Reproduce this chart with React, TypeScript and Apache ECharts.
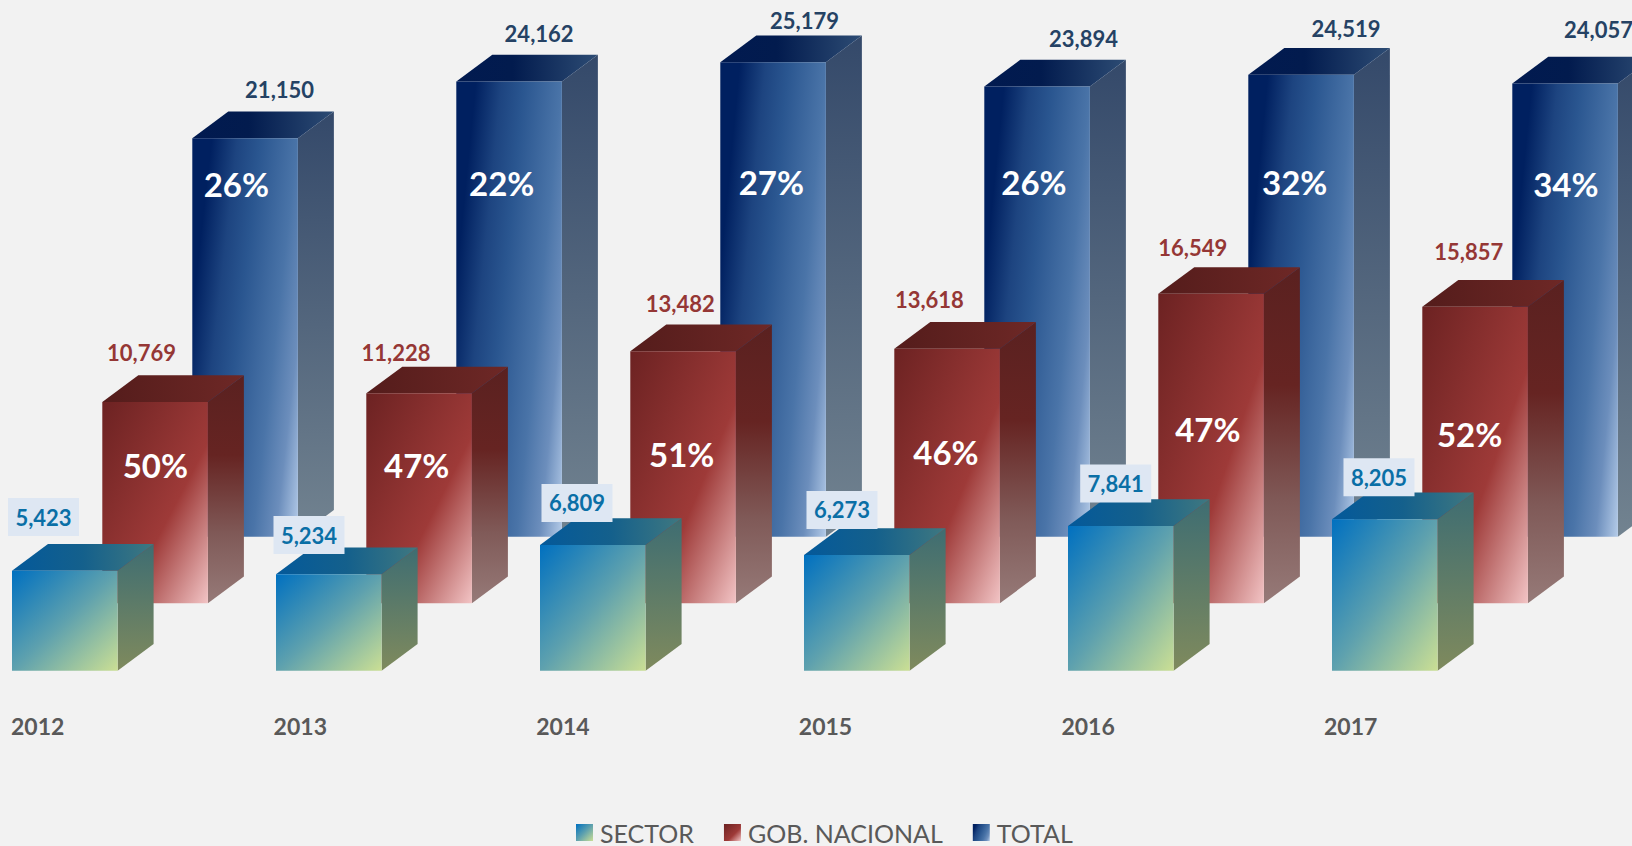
import React, { useEffect, useRef } from "react";
import * as echarts from "echarts";

const years = ["2012", "2013", "2014", "2015", "2016", "2017"];
const seriesNames = ["SECTOR", "GOB. NACIONAL", "TOTAL"];
const sectorValues = [5423, 5234, 6809, 6273, 7841, 8205];
const nacionalValues = [10769, 11228, 13482, 13618, 16549, 15857];
const totalValues = [21150, 24162, 25179, 23894, 24519, 24057];
const nacionalShare = ["50%", "47%", "51%", "46%", "47%", "52%"];
const totalShare = ["26%", "22%", "27%", "26%", "32%", "34%"];

// layout: label offsets from each bar's front-top-left corner
const totalLabelDx = [87.3, 82.8, 84.2, 99.2, 97.7, 86.2];
const totalLabelDy = [48.9, 48.2, 41.5, 48, 45.8, 53.5];
const totalPctDx = [44, 45.4, 51, 49.7, 46.4, 53.5];
const totalPctDy = [45.8, 101.5, 119.7, 95.5, 107.2, 100.5];
const nacionalLabelDx = [39.2, 29.7, 49.9, 35.1, 34.4, 46.5];
const nacionalLabelDy = [49.2, 40.6, 47.2, 48.8, 46.1, 55.1];
const nacionalPctDx = [53, 50.4, 51.4, 51.7, 49.6, 47.3];
const nacionalPctDy = [63.1, 71.7, 102.6, 103.1, 135, 127.2];
const sectorLabelDx = [31.5, 33, 37, 38, 47.7, 47];
const sectorLabelDy = [53.6, 39.1, 42.1, 45, 42.6, 42.1];

const BAR_W = 105.6;
const DEPTH_X = 36;
const DEPTH_Y = 26.7;
const FONT = "Lato";

const fmt = (v: number) => v.toLocaleString("en-US");
const grad = (x2: number, y2: number, stops: [number, string][]) =>
  new echarts.graphic.LinearGradient(
    0,
    0,
    x2,
    y2,
    stops.map(([offset, color]) => ({ offset, color }))
  );

const palettes = {
  total: {
    front: grad(1.207, 0.517, [
      [0, "#002060"],
      [0.13, "#002060"],
      [0.3, "#1d4480"],
      [0.45, "#2a5690"],
      [0.7, "#4a74a8"],
      [0.85, "#6c8ebc"],
      [1, "#b4cbe8"],
    ]),
    side: grad(0, 1, [
      [0, "#34496a"],
      [1, "#728390"],
    ]),
    top: grad(1, 0, [
      [0, "#011a50"],
      [0.4, "#021b4e"],
      [1, "#2d4c74"],
    ]),
  },
  nacional: {
    front: grad(1, 1, [
      [0, "#6c2222"],
      [0.6, "#9e3a38"],
      [1, "#f2c4c5"],
    ]),
    side: grad(0, 1, [
      [0, "#5a2120"],
      [0.35, "#662422"],
      [0.7, "#805a58"],
      [1, "#967a78"],
    ]),
    top: grad(1, 0, [
      [0, "#541c1b"],
      [1, "#6e2826"],
    ]),
  },
  sector: {
    front: grad(1, 1, [
      [0, "#0070c0"],
      [0.5, "#5ea1ae"],
      [1, "#cbdf94"],
    ]),
    side: grad(0, 1, [
      [0, "#3e6d72"],
      [1, "#7f8a5d"],
    ]),
    top: grad(1, 0, [
      [0, "#04599a"],
      [0.5, "#14608c"],
      [1, "#3f7880"],
    ]),
  },
};

function barFaces(
  x: number,
  top: number,
  base: number,
  p: { front: any; side: any; top: any }
) {
  const r = x + BAR_W;
  return [
    {
      type: "polygon",
      shape: {
        points: [
          [r, top],
          [r + DEPTH_X, top - DEPTH_Y],
          [r + DEPTH_X, base - DEPTH_Y],
          [r, base],
        ],
      },
      style: { fill: p.side },
    },
    {
      type: "polygon",
      shape: {
        points: [
          [x, top],
          [x + DEPTH_X, top - DEPTH_Y],
          [r + DEPTH_X, top - DEPTH_Y],
          [r, top],
        ],
      },
      style: { fill: p.top },
    },
    {
      type: "rect",
      shape: { x, y: top, width: BAR_W, height: base - top },
      style: { fill: p.front },
    },
  ];
}

const valueText = (text: string, x: number, y: number, fill: string) => ({
  type: "text",
  z2: 10,
  style: {
    text,
    x,
    y,
    fill,
    font: `bold 22px ${FONT}`,
    align: "center",
    verticalAlign: "middle",
  },
});

const pctText = (text: string, x: number, y: number) => ({
  type: "text",
  z2: 10,
  style: {
    text,
    x,
    y,
    fill: "#ffffff",
    font: `bold 33px ${FONT}`,
    align: "center",
    verticalAlign: "middle",
  },
});

function makeRender(kind: "total" | "nacional" | "sector") {
  return (params: any, api: any) => {
    const i = api.value(0);
    const v = api.value(1);
    const [cx, top] = api.coord([i, v]);
    const [, base] = api.coord([i, 0]);
    const x = cx - BAR_W / 2;
    const children: any[] = barFaces(x, top, base, palettes[kind]);
    if (kind === "total") {
      children.push(
        valueText(fmt(v), x + totalLabelDx[i], top - totalLabelDy[i], "#254264"),
        pctText(totalShare[i], x + totalPctDx[i], top + totalPctDy[i])
      );
    } else if (kind === "nacional") {
      children.push(
        valueText(fmt(v), x + nacionalLabelDx[i], top - nacionalLabelDy[i], "#953735"),
        pctText(nacionalShare[i], x + nacionalPctDx[i], top + nacionalPctDy[i])
      );
    } else {
      const bx = x + sectorLabelDx[i];
      const by = top - sectorLabelDy[i];
      children.push(
        {
          type: "rect",
          z2: 9,
          shape: { x: bx - 35.5, y: by - 19, width: 71, height: 38 },
          style: { fill: "#dee7f3" },
        },
        valueText(fmt(v), bx, by, "#0a6fa6")
      );
    }
    return { type: "group", children };
  };
}

const toData = (values: number[]) => values.map((v, i) => [i, v]);

export default function App() {
  const ref = useRef<HTMLDivElement>(null);
  useEffect(() => {
    document.body.style.margin = "0";
    document.body.style.overflow = "hidden";
    document.body.style.background = "#f2f2f2";
    const chart = echarts.init(ref.current!, undefined, { renderer: "svg" });
    const hiddenX = (gridIndex: number) => ({
      type: "category" as const,
      gridIndex,
      data: years,
      show: false,
    });
    const hiddenY = (gridIndex: number, max: number) => ({
      type: "value" as const,
      gridIndex,
      min: 0,
      max,
      show: false,
      splitLine: { show: false },
    });
    chart.setOption({
      animation: false,
      backgroundColor: "#f2f2f2",
      grid: [
        { left: 113.1, top: 0, width: 1584, height: 536.7, outerBoundsMode: "none" },
        { left: 23.1, top: 0, width: 1584, height: 603.3, outerBoundsMode: "none" },
        { left: -67.2, top: 0, width: 1584, height: 670.7, outerBoundsMode: "none" },
        { left: -93.6, top: 0, width: 1575.6, height: 706, outerBoundsMode: "none" },
      ],
      xAxis: [
        hiddenX(0),
        hiddenX(1),
        hiddenX(2),
        {
          type: "category",
          gridIndex: 3,
          data: years,
          axisLine: { show: false },
          axisTick: { show: false },
          axisLabel: {
            margin: 8,
            color: "#595959",
            fontFamily: FONT,
            fontWeight: "bold",
            fontSize: 23,
          },
        },
      ],
      yAxis: [
        hiddenY(0, 28487),
        hiddenY(1, 32262),
        hiddenY(2, 36352),
        hiddenY(3, 100),
      ],
      legend: {
        data: seriesNames,
        left: 576,
        top: 820,
        padding: 0,
        itemWidth: 17,
        itemHeight: 17,
        itemGap: 30,
        icon: "rect",
        selectedMode: false,
        textStyle: { color: "#595959", fontFamily: FONT, fontSize: 25, padding: [0, 0, 0, 2] },
      },
      series: [
        {
          name: "TOTAL",
          type: "custom",
          xAxisIndex: 0,
          yAxisIndex: 0,
          clip: false,
          silent: true,
          z: 1,
          renderItem: makeRender("total"),
          itemStyle: { color: palettes.total.front },
          data: toData(totalValues),
        },
        {
          name: "GOB. NACIONAL",
          type: "custom",
          xAxisIndex: 1,
          yAxisIndex: 1,
          clip: false,
          silent: true,
          z: 2,
          renderItem: makeRender("nacional"),
          itemStyle: { color: palettes.nacional.front },
          data: toData(nacionalValues),
        },
        {
          name: "SECTOR",
          type: "custom",
          xAxisIndex: 2,
          yAxisIndex: 2,
          clip: false,
          silent: true,
          z: 3,
          renderItem: makeRender("sector"),
          itemStyle: { color: palettes.sector.front },
          data: toData(sectorValues),
        },
      ],
    });
    return () => chart.dispose();
  }, []);
  return <div ref={ref} style={{ width: 1632, height: 846 }} />;
}
